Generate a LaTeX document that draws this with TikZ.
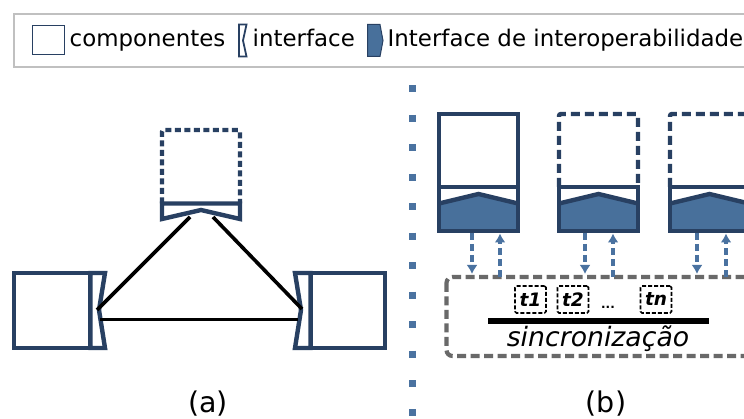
\documentclass[tikz,border=0pt]{standalone}
\usepackage{fontspec}
\setmainfont{DejaVu Sans}
\usetikzlibrary{arrows.meta}
\definecolor{navy}{RGB}{40,64,98}
\definecolor{ifblue}{RGB}{72,112,155}
\definecolor{arrowblue}{RGB}{74,114,160}
\definecolor{syncgray}{RGB}{105,105,105}
\definecolor{legendgray}{RGB}{192,192,192}
\begin{document}
\begin{tikzpicture}[x=1pt,y=-1pt,
  comp/.style={draw=navy, line width=4.4pt, line join=miter},
  compdash/.style={comp, dash pattern=on 9pt off 5pt, rounded corners=2pt},
  iface/.style={draw=navy, fill=white, line width=4.4pt, line join=miter},
  link/.style={draw=black, line width=3.6pt},
  flow/.style={draw=arrowblue, line width=4.2pt, dash pattern=on 7pt off 4pt,
    -{Latex[length=9pt,width=11pt]}},
  syncbox/.style={draw=syncgray, line width=4.2pt, dash pattern=on 9pt off 4.5pt,
    rounded corners=6pt},
  tbox/.style={draw=black, line width=1.7pt, dash pattern=on 4pt off 2pt,
    rounded corners=1.5pt, minimum width=31pt, minimum height=27pt, inner sep=0pt,
    font=\fontsize{18.5}{18.5}\selectfont\bfseries\itshape},
  legtext/.style={anchor=base west, inner sep=0pt, font=\fontsize{22.9}{27}\selectfont},
  caption/.style={anchor=base, inner sep=0pt, font=\fontsize{28.5}{32}\selectfont}]
\useasboundingbox (0,0) rectangle (744,419);
\clip (0,0) rectangle (744,419);
\fill[white] (0,0) rectangle (744,419);

% ---------- legend ----------
\draw[legendgray, line width=2.2pt] (14,14) rectangle (770,67);
\draw[navy, line width=1.8pt] (32.5,25.5) rectangle (64.5,54.5);
\node[legtext] (lgcomp) at (69.5,47) {componentes};
\draw[navy, line width=1.8pt, line join=miter]
  (239,24.5) -- (246.5,24.5) -- (243,40.5) -- (246.5,56.5) -- (239,56.5) -- cycle;
\node[legtext] (lgif) at (252.5,47) {interface};
\draw[navy, fill=ifblue, line width=1pt, line join=miter]
  (367.5,24.5) -- (380,24.5) -- (383,40.5) -- (380,56.5) -- (367.5,56.5) -- cycle;
\node[legtext] (lgio) at (387.5,47) {Interface de interoperabilidade};

% ---------- (a) point-to-point ----------
% top component (dashed) with its interface
\draw[comp, dash pattern=on 6pt off 3.5pt, rounded corners=2pt]
  (162,203.5) -- (162,130) -- (240,130) -- (240,203.5);
\draw[iface] (162,203.5) -- (240,203.5) -- (240,219) -- (201,210) -- (162,219) -- cycle;
% left component
\draw[comp] (14,273) rectangle (90.5,348);
\draw[iface] (90.5,273) -- (105,273) -- (99,310) -- (105,348) -- (90.5,348) -- cycle;
% right component
\draw[comp] (310.5,273) rectangle (385,348);
\draw[iface] (310.5,273) -- (295,273) -- (301,310) -- (295,348) -- (310.5,348) -- cycle;
% links between interfaces
\coordinate (topL) at (190,217);
\coordinate (topR) at (213,217);
\coordinate (leftTip) at (97,310);
\coordinate (rightTip) at (302,309);
\coordinate (leftBase) at (100,319.5);
\coordinate (rightBase) at (298,319.5);
\draw[link] (leftTip) -- (topL);
\draw[link] (topR) -- (rightTip);
\draw[link] (leftBase) -- (rightBase);
\node[caption] (capA) at (208,412) {(a)};

% ---------- separator ----------
\draw[arrowblue, line width=7pt, dash pattern=on 7pt off 22.45pt] (412,85.5) -- (412,425);

% ---------- (b) synchronised components ----------
\foreach \L/\st in {439/comp, 559/compdash, 670/compdash} {
  \draw[\st] (\L,187) -- (\L,114) -- (\L+79,114) -- (\L+79,187);
  \fill[ifblue] (\L,203.5) -- (\L+39.5,194) -- (\L+79,203.5) -- (\L+79,231) -- (\L,231) -- cycle;
  \draw[comp] (\L,187) rectangle (\L+79,231);
  \draw[comp] (\L,203.5) -- (\L+39.5,194) -- (\L+79,203.5);
}
% synchronisation area
\draw[syncbox] (446.5,277) rectangle (780,356);
% exchanges between interfaces and synchronisation
\foreach \i/\xd/\xu in {1/472/500, 2/585/613, 3/697/726} {
  \coordinate (out\i) at (\xd,233);
  \coordinate (in\i) at (\xd,274);
  \coordinate (ret\i) at (\xu,277);
  \coordinate (back\i) at (\xu,233.5);
  \draw[flow] (out\i) -- (in\i);
  \draw[flow] (ret\i) -- (back\i);
}
\node[tbox] (t1) at (530.5,299.5) {t1};
\node[tbox] (t2) at (573,299.5) {t2};
\node[anchor=base, inner sep=0pt, font=\fontsize{12}{12}\selectfont\bfseries] (dots) at (608,309) {...};
\node[tbox] (tn) at (656,299.5) {tn};
\coordinate (barL) at (488,321);
\coordinate (barR) at (709,321);
\draw[line width=6pt] (barL) -- (barR);
\node[anchor=base, inner sep=0pt, font=\fontsize{26.7}{30}\selectfont\itshape] (sync) at (598,347) {sincronização};
\node[caption] (capB) at (606,412) {(b)};
\end{tikzpicture}
\end{document}
